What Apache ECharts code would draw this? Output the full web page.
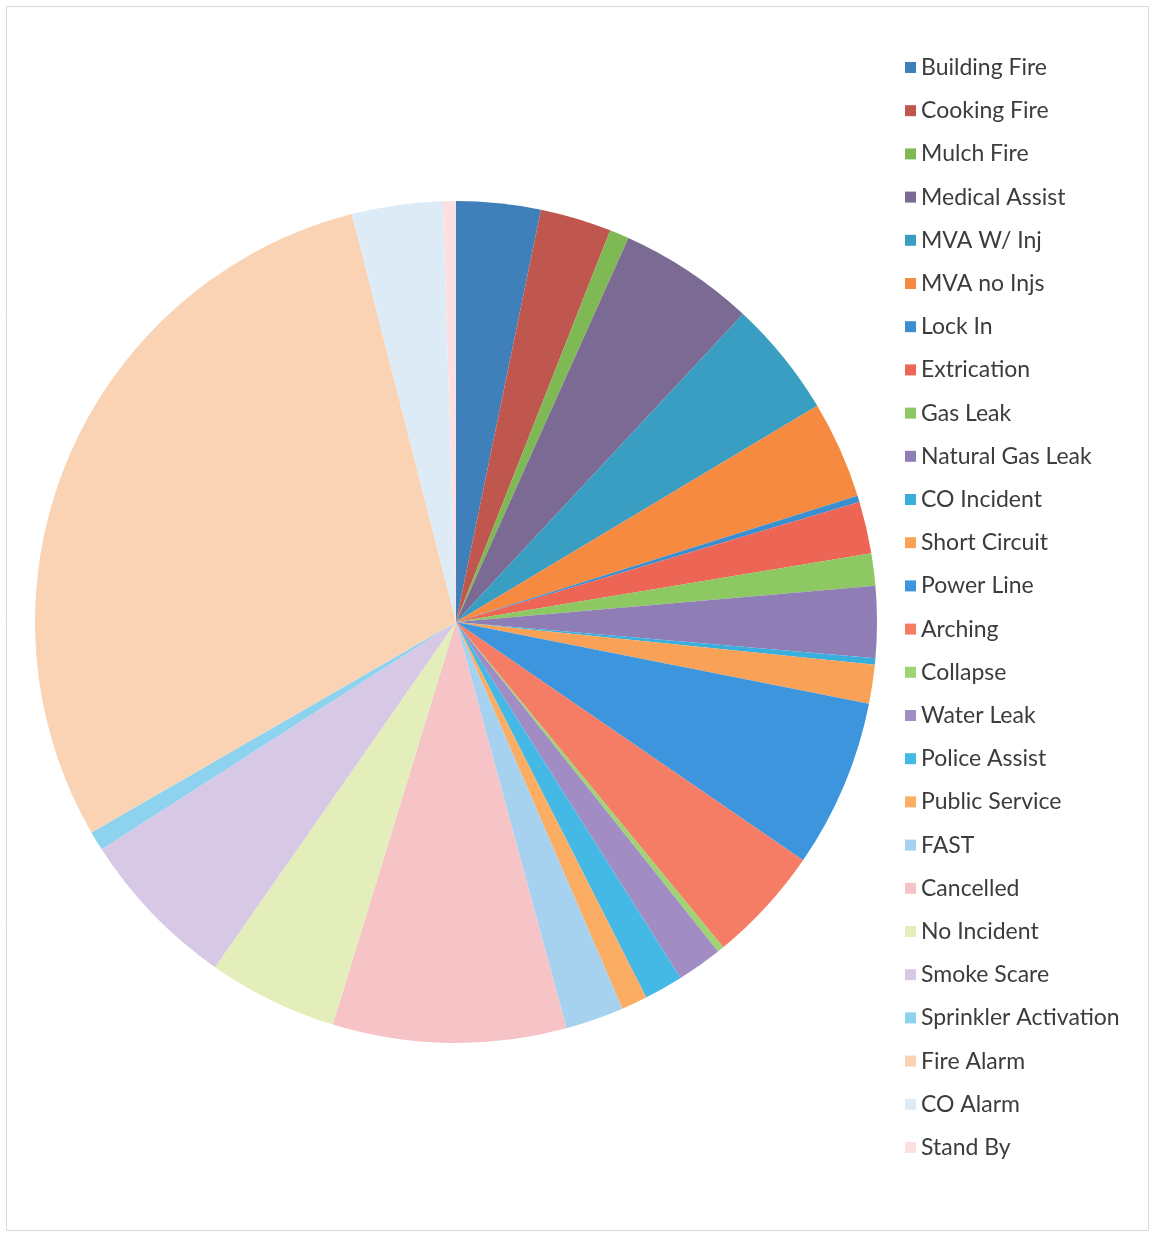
<!DOCTYPE html>
<html>
<head>
<meta charset="utf-8">
<script src="https://cdn.jsdelivr.net/npm/echarts@6/dist/echarts.min.js"></script>
<style>
html,body{margin:0;padding:0;background:#fff;}
#chart{width:1155px;height:1236px;}
</style>
</head>
<body>
<div id="chart"></div>
<script>
const categories = ["Building Fire","Cooking Fire","Mulch Fire","Medical Assist","MVA W/ Inj","MVA no Injs","Lock In","Extrication","Gas Leak","Natural Gas Leak","CO Incident","Short Circuit","Power Line","Arching","Collapse","Water Leak","Police Assist","Public Service","FAST","Cancelled","No Incident","Smoke Scare","Sprinkler Activation","Fire Alarm","CO Alarm","Stand By"];
const values = [13,11,3,21,18,15,1,8,5,11,1,6,26,18,1,7,6,4,9,36,20,25,3,118,14,2];
const colors = ["#3F7FBA","#C0574F","#7FB954","#7A6A94","#3A9DC2","#F68A40","#3B8FD0","#EC6555","#8DC863","#8F7EB6","#3AAEDC","#F9A157","#3C95DD","#F57D66","#9ED472","#A28CC4","#45B9E5","#FAAD63","#A6D2F0","#F6C3C6","#E3EEBA","#D7C9E5","#8DD3F0","#FAD3B4","#DDEBF7","#FBDFE1"];

const chart = echarts.init(document.getElementById('chart'));
chart.setOption({
  animation: false,
  backgroundColor: '#ffffff',
  color: colors,
  graphic: [{
    type: 'rect', silent: true,
    shape: {x: 6.5, y: 6.5, width: 1142, height: 1224},
    style: {fill: 'none', stroke: '#d9d9d9', lineWidth: 1}
  }],
  legend: {
    orient: 'vertical',
    left: 900,
    top: 51,
    icon: 'rect',
    itemWidth: 11,
    itemHeight: 11,
    itemGap: 20.2,
    textStyle: {fontFamily: 'Lato', fontSize: 23, color: '#3c3c3c', lineHeight: 23, padding: [0,0,0,0]},
    data: categories
  },
  series: [{
    type: 'pie',
    center: [456, 622],
    radius: [0, 421],
    startAngle: 90,
    clockwise: true,
    label: {show: false},
    labelLine: {show: false},
    itemStyle: {borderWidth: 0},
    emphasis: {disabled: true},
    data: categories.map((c, i) => ({name: c, value: values[i]}))
  }]
});
</script>
</body>
</html>
